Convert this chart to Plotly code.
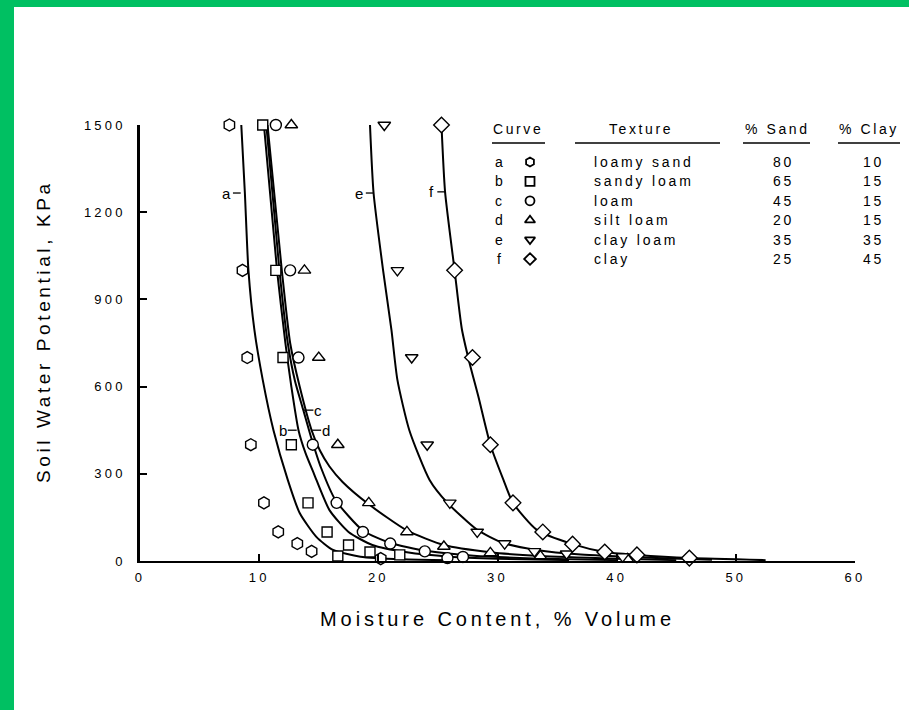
import plotly.graph_objects as go

# ---------------- data ----------------
curve_ids = ["a", "b", "c", "d", "e", "f"]
textures = ["loamy sand", "sandy loam", "loam", "silt loam", "clay loam", "clay"]
pct_sand = [80, 65, 45, 20, 35, 25]
pct_clay = [10, 15, 15, 15, 35, 45]
symbols = ["hexagon", "square", "circle", "triangle-up", "triangle-down", "diamond"]
marker_sizes = [12, 10, 11, 11, 11, 12]

# measured points (moisture %, potential kPa)
a_moist = [7.5, 8.6, 9.0, 9.3, 10.4, 11.6, 13.2, 14.4, 20.2]
a_pot = [1500, 1000, 700, 400, 200, 100, 60, 33, 8]
b_moist = [10.3, 11.4, 12.0, 12.7, 14.1, 15.7, 17.5, 16.6, 19.3, 21.8]
b_pot = [1500, 1000, 700, 400, 200, 100, 55, 17, 31, 21]
c_moist = [11.4, 12.6, 13.3, 14.5, 16.5, 18.7, 21.0, 23.9, 25.8, 27.1]
c_pot = [1500, 1000, 700, 400, 200, 100, 60, 33, 10, 14]
d_moist = [12.7, 13.8, 15.0, 16.6, 19.2, 22.4, 25.5, 29.4, 33.6, 40.9]
d_pot = [1500, 1000, 700, 400, 200, 100, 50, 28, 17, 7]
e_moist = [20.5, 21.6, 22.8, 24.1, 26.0, 28.3, 30.6, 33.1, 35.8, 40.5]
e_pot = [1500, 1000, 700, 400, 200, 100, 60, 33, 25, 15]
f_moist = [25.3, 26.4, 27.9, 29.4, 31.3, 33.8, 36.3, 39.0, 41.7, 46.1]
f_pot = [1500, 1000, 700, 400, 200, 100, 58, 31, 21, 10]

# fitted curves
fit_a_x = [8.5, 8.8, 9.1, 9.6, 10.3, 11.2, 12.4, 13.4, 14.8, 16.2, 18.5, 22.0, 26.0]
fit_a_y = [1500, 1266, 1000, 795, 623, 450, 279, 165, 83, 38, 15, 6, 3]
fit_b_x = [10.4, 11.5, 12.2, 12.7, 13.3, 13.9, 14.6, 15.9, 17.5, 19.5, 22.4, 26.0, 30.0, 36.0]
fit_b_y = [1500, 1000, 750, 600, 450, 370, 300, 175, 100, 55, 30, 15, 8, 3]
fit_c_x = [10.6, 11.7, 12.4, 13.0, 13.7, 14.4, 15.2, 16.4, 18.7, 21.0, 24.0, 28.0, 33.0, 40.0]
fit_c_y = [1500, 1000, 750, 620, 520, 420, 320, 210, 105, 62, 35, 18, 9, 3]
fit_d_x = [10.7, 11.9, 12.6, 13.4, 14.4, 15.1, 15.9, 17.0, 19.2, 22.4, 25.5, 29.4, 33.6, 40.0, 45.0]
fit_d_y = [1500, 1000, 750, 600, 450, 380, 325, 272, 195, 105, 55, 30, 17, 8, 3]
fit_e_x = [19.3, 19.6, 20.4, 21.1, 21.6, 22.6, 24.3, 25.8, 28.3, 30.5, 33.3, 37.0, 42.0, 48.0]
fit_e_y = [1500, 1266, 1000, 795, 623, 450, 279, 200, 107, 62, 38, 22, 12, 4]
fit_f_x = [25.3, 25.6, 26.4, 27.0, 27.6, 28.4, 29.4, 30.5, 31.3, 33.3, 36.3, 39.0, 41.7, 46.1, 52.5]
fit_f_y = [1500, 1270, 1000, 800, 690, 565, 400, 279, 200, 107, 58, 31, 21, 10, 3]

x_ticks = [0, 10, 20, 30, 40, 50, 60]
y_ticks = [0, 300, 600, 900, 1200, 1500]

points = [(a_moist, a_pot), (b_moist, b_pot), (c_moist, c_pot),
          (d_moist, d_pot), (e_moist, e_pot), (f_moist, f_pot)]
fits = [(fit_a_x, fit_a_y), (fit_b_x, fit_b_y), (fit_c_x, fit_c_y),
        (fit_d_x, fit_d_y), (fit_e_x, fit_e_y), (fit_f_x, fit_f_y)]

# ---------------- layout helpers ----------------
W, H = 909, 710
L, R, T, B = 140, 54, 125, 149
PW, PH = W - L - R, H - T - B
FONT = "Liberation Sans, Arial, Helvetica, sans-serif"
GREEN = "#00c062"


def fx(px):
    return (px - L) / PW


def fy(py):
    return (H - B - py) / PH


def spaced(s, sp):
    return f'<span style="letter-spacing:{sp}px">{s}</span>'


fig = go.Figure()

for (xs, ys) in fits:
    fig.add_trace(go.Scatter(x=xs, y=ys, mode="lines",
                             line=dict(color="black", width=2, shape="spline", smoothing=0.6),
                             hoverinfo="skip", showlegend=False, cliponaxis=False))

for (xs, ys), sym, sz, cid in zip(points, symbols, marker_sizes, curve_ids):
    fig.add_trace(go.Scatter(x=xs, y=ys, mode="markers", name=cid,
                             marker=dict(symbol=sym, size=sz, color="white",
                                         line=dict(color="black", width=1.4)),
                             showlegend=False, cliponaxis=False))

# legend-table symbols on a hidden helper axis
rows = list(range(len(curve_ids)))
fig.add_trace(go.Scatter(x=[0] * len(rows), y=rows, mode="markers", xaxis="x2", yaxis="y2",
                         marker=dict(symbol=symbols, size=9, color="white",
                                     line=dict(color="black", width=1.8)),
                         showlegend=False, cliponaxis=False, hoverinfo="skip"))

annotations = []
shapes = []

# curve labels with small leader ticks
label_specs = [
    ("a", 7.3, 1266, 7.8, 8.45),
    ("e", 18.4, 1266, 18.95, 19.6),
    ("f", 24.5, 1270, 24.95, 25.6),
    ("b", 12.0, 450, 12.4, 13.15),
    ("c", 14.9, 519, 13.75, 14.55),
    ("d", 15.6, 450, 14.45, 15.2),
]
for txt, tx, ty, x0, x1 in label_specs:
    annotations.append(dict(x=tx, y=ty, xref="x", yref="y", text=txt, showarrow=False,
                            font=dict(family=FONT, size=15, color="black"),
                            xanchor="center", yanchor="middle"))
    shapes.append(dict(type="line", xref="x", yref="y", x0=x0, x1=x1, y0=ty, y1=ty,
                       line=dict(color="black", width=1.3)))

# y axis title (placed slightly above the axis centre, as in the reference)
annotations.append(dict(x=fx(43), y=fy(332), xref="paper", yref="paper",
                        text=spaced("Soil Water Potential, KPa", 3.6), textangle=-90,
                        showarrow=False, font=dict(family=FONT, size=19, color="black"),
                        xanchor="center", yanchor="middle"))

# legend table
hdr_y = fy(129)
headers = [("Curve", 518), ("Texture", 641), ("% Sand", 777), ("% Clay", 869)]
for h, cx in headers:
    annotations.append(dict(x=fx(cx), y=hdr_y, xref="paper", yref="paper",
                            text=spaced(h, 2.6), showarrow=False,
                            font=dict(family=FONT, size=14, color="black"),
                            xanchor="center", yanchor="middle"))
for x0, x1 in [(492, 545), (575, 720), (743, 810), (838, 900)]:
    shapes.append(dict(type="line", xref="paper", yref="paper", x0=fx(x0), x1=fx(x1),
                       y0=fy(143), y1=fy(143), line=dict(color="black", width=1.3)))

row_top, row_bot = 162, 259
row_step = (row_bot - row_top) / (len(rows) - 1)
for i, (cid, tex, sd, cl) in enumerate(zip(curve_ids, textures, pct_sand, pct_clay)):
    yy = fy(row_top + i * row_step)
    for text, cx, anchor in [(cid, 500, "center"), (tex, 592, "left"),
                             (str(sd), 783, "center"), (str(cl), 873, "center")]:
        annotations.append(dict(x=fx(cx), y=yy, xref="paper", yref="paper",
                                text=spaced(text, 2.8), showarrow=False,
                                font=dict(family=FONT, size=14, color="black"),
                                xanchor=anchor, yanchor="middle"))

# green frame (top and left strips)
shapes.append(dict(type="rect", xref="paper", yref="paper", x0=fx(0), x1=fx(14),
                   y0=fy(H), y1=fy(0), fillcolor=GREEN, line=dict(width=0), layer="below"))
shapes.append(dict(type="rect", xref="paper", yref="paper", x0=fx(0), x1=fx(W),
                   y0=fy(7), y1=fy(0), fillcolor=GREEN, line=dict(width=0), layer="below"))

sym_x = fx(530)
fig.update_layout(
    width=W, height=H,
    margin=dict(l=L, r=R, t=T, b=B, pad=0),
    paper_bgcolor="white", plot_bgcolor="rgba(0,0,0,0)",
    showlegend=False,
    font=dict(family=FONT, color="black"),
    xaxis=dict(range=[0, 60], tickvals=x_ticks, ticktext=[spaced(str(v), 3.2) for v in x_ticks],
               ticks="inside", ticklen=7, tickwidth=1.5, tickcolor="black",
               showline=True, linecolor="black", linewidth=2, showgrid=False, zeroline=False,
               tickfont=dict(family=FONT, size=13, color="black"), ticklabelstandoff=3,
               title=dict(text=spaced("Moisture Content, % Volume", 3.9),
                          font=dict(family=FONT, size=20, color="black"), standoff=28)),
    yaxis=dict(range=[0, 1500], tickvals=y_ticks, ticktext=[spaced(str(v), 3.2) for v in y_ticks],
               ticks="inside", ticklen=7, tickwidth=1.5, tickcolor="black",
               showline=True, linecolor="black", linewidth=2.5, showgrid=False, zeroline=False,
               tickfont=dict(family=FONT, size=13, color="black"), ticklabelstandoff=9),
    xaxis2=dict(domain=[sym_x - 0.01, sym_x + 0.01], range=[-1, 1], anchor="y2", visible=False),
    yaxis2=dict(domain=[fy(row_bot), fy(row_top)], range=[len(rows) - 1, 0], anchor="x2",
                visible=False),
    annotations=annotations,
    shapes=shapes,
)

fig.write_html("out.html", config={"displayModeBar": False},
               post_script="document.body.style.margin='0px';")
